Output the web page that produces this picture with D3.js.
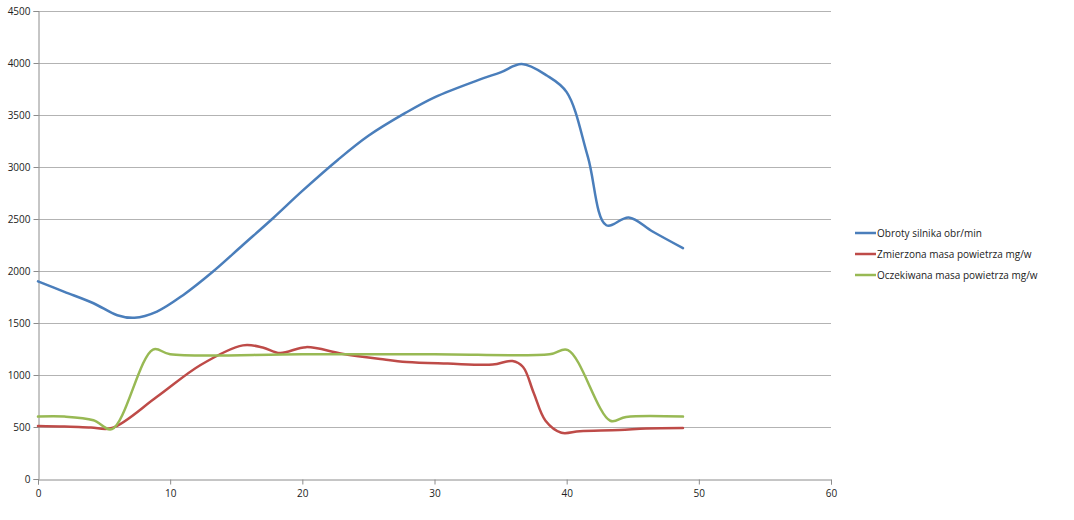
<!DOCTYPE html>
<html><head><meta charset="utf-8">
<script src="https://cdn.jsdelivr.net/npm/d3@7"></script>
<style>body{margin:0;background:#fff}svg{display:block}text{font-family:"Open Sans",sans-serif;font-size:10px;fill:#222}</style>
</head><body><svg id="c" width="1074" height="520"></svg>
<script>
const seriesNames = ["Obroty silnika obr/min","Zmierzona masa powietrza mg/w","Oczekiwana masa powietrza mg/w"];
const seriesColors = ["#4a7ebb","#be4b48","#98b954"];
const xTicks = [0,10,20,30,40,50,60];
const yTicks = [0,500,1000,1500,2000,2500,3000,3500,4000,4500];

const rpmX = [0,2,4.2,6,7.3,9,11,13.2,15.5,17.8,20,22.7,25,27.8,30,33.4,35,36.6,38.5,40,41.6,43,44.7,46.5,48.8];
const rpmY = [1900,1800,1690,1575,1550,1610,1770,1990,2250,2510,2770,3070,3300,3520,3670,3840,3910,3990,3880,3720,3100,2440,2515,2380,2220];

const measX = [0,2,4,5.6,9,12.3,15.5,17,18.3,20.3,23,25.9,27.9,31,34.4,35.9,36.7,37.5,38.4,39.6,41,44,46,48.8];
const measY = [510,505,495,490,790,1096,1285,1265,1211,1268,1205,1154,1125,1110,1100,1134,1077,830,560,445,460,470,485,490];

const expX = [0,2,4.2,5.6,8.7,10,20,30,38.7,40.1,43.3,44.5,48.8];
const expY = [600,600,565,480,1245,1200,1200,1200,1200,1240,560,597,600];

const svg = d3.select("#c");
const x = d3.scaleLinear().domain([0,60]).range([38,831]);
const y = d3.scaleLinear().domain([0,4500]).range([479,11]);

svg.append("g").selectAll("line").data(yTicks.filter(d=>d>0)).join("line")
  .attr("x1",x(0)).attr("x2",x(60)).attr("y1",d=>y(d)+0.5).attr("y2",d=>y(d)+0.5)
  .attr("stroke","#b3b3b3").attr("stroke-width",1);

const yAxis = svg.append("g").attr("transform",`translate(${x(0)+0.5},0)`)
  .call(d3.axisLeft(y).tickValues(yTicks).tickSize(5).tickPadding(3).tickFormat(d3.format("d")));
const xAxis = svg.append("g").attr("transform",`translate(0,${y(0)+0.5})`)
  .call(d3.axisBottom(x).tickValues(xTicks).tickSize(5).tickPadding(5).tickFormat(d3.format("d")));
[yAxis,xAxis].forEach(a=>{
  a.selectAll("path,line").attr("stroke","#8c8c8c");
  a.selectAll("text").style("font-family","'Open Sans',sans-serif").style("font-size","10px").attr("fill","#222");
});

const line = d3.line().x(d=>x(d[0])).y(d=>y(d[1])).curve(d3.curveCatmullRom.alpha(0.5));
const series = [d3.zip(rpmX,rpmY), d3.zip(measX,measY), d3.zip(expX,expY)];
series.forEach((s,i)=>{
  svg.append("path").datum(s).attr("d",line).attr("fill","none")
    .attr("stroke",seriesColors[i]).attr("stroke-width",2.5).attr("stroke-linejoin","round").attr("stroke-linecap","round");
});

const leg = svg.append("g");
seriesNames.forEach((n,i)=>{
  const yy = 233 + i*21;
  leg.append("line").attr("x1",855).attr("x2",876).attr("y1",yy).attr("y2",yy)
    .attr("stroke",seriesColors[i]).attr("stroke-width",2.5);
  leg.append("text").attr("x",877).attr("y",yy).attr("dy","0.35em").text(n);
});
</script></body></html>
